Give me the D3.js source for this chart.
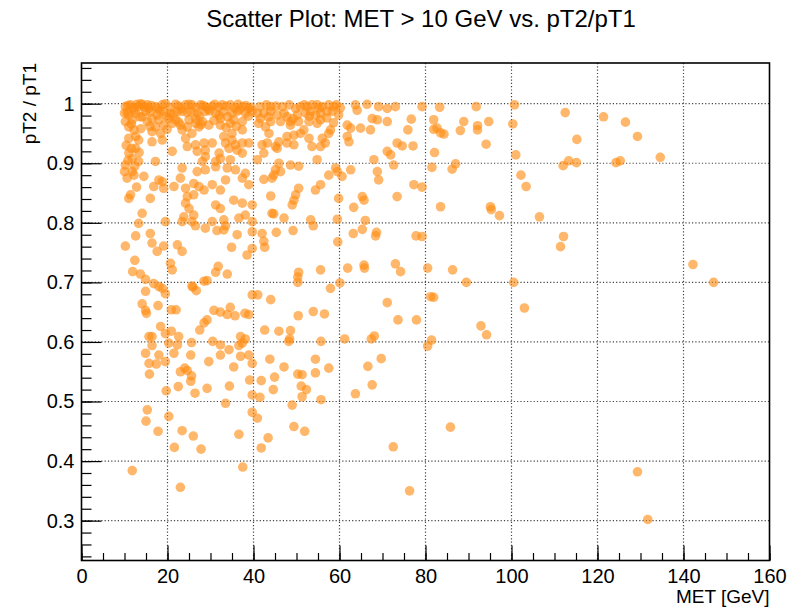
<!DOCTYPE html>
<html>
<head>
<meta charset="utf-8">
<script src="https://cdn.jsdelivr.net/npm/d3@7"></script>
<style>
  body { margin: 0; background: #fff; }
  text { font-family: "Liberation Sans", Arial, Helvetica, sans-serif; fill: #000; }
</style>
</head>
<body>
<script>
// MET [GeV] and pT2/pT1 for each event (same order in both arrays)
const metValues = [
  10.2,11.4,12.9,14.1,15.3,17.2,18.8,21.9,24.2,25.7,27.7,28.8,30.4,32.7,34.6,37.4,38.9,13.3,15.7,
  10.0,11.0,12.6,14.9,17.6,19.1,20.7,22.3,23.4,25.4,26.9,28.8,31.2,33.1,35.0,36.2,38.1,39.7,10.2,11.8,14.1,16.4,18.0,20.3,21.9,25.0,26.5,28.1,29.6,32.3,35.4,37.4,
  11.0,12.2,15.3,17.2,19.1,21.1,23.0,24.6,26.5,27.3,32.3,34.6,37.4,16.4,18.4,23.4,25.7,12.6,35.0,
  11.0,13.3,16.4,18.8,24.2,26.5,28.5,30.4,33.1,33.5,35.0,35.8,37.4,38.9,12.6,24.6,26.9,28.8,32.0,34.3,36.2,37.4,21.1,
  11.0,11.8,13.3,17.2,28.8,32.3,34.6,10.2,28.1,31.2,
  10.0,11.8,12.2,14.5,23.4,26.9,28.8,31.2,33.9,35.8,38.1,23.0,18.0,18.8,37.4,33.5,
  16.8,19.1,21.5,24.2,26.1,27.3,28.5,30.4,32.3,11.4,11.0,16.0,24.6,26.1,38.9,
  24.2,25.0,26.1,31.2,32.3,35.4,37.4,14.1,23.8,36.6,13.3,19.5,23.4,25.7,30.4,33.1,38.1,39.7,
  44.0,46.7,49.8,50.9,52.5,53.6,54.8,56.0,57.5,58.7,63.7,66.4,69.1,71.1,73.0,64.1,
  40.9,42.4,44.0,45.5,47.1,47.8,50.2,52.1,53.3,54.4,55.6,57.1,58.3,59.8,41.6,44.0,46.3,48.6,50.5,52.9,54.8,55.6,67.6,68.8,71.1,41.2,42.8,48.6,
  43.6,47.8,49.4,50.9,51.7,57.9,61.8,62.6,64.9,67.2,61.8,62.2,52.9,56.0,57.5,45.9,
  42.0,43.2,45.1,45.5,47.8,49.4,53.6,55.6,56.7,73.4,42.4,71.1,71.9,
  40.9,54.8,45.9,48.6,50.5,68.0,72.6,45.1,46.3,57.5,59.1,59.5,60.6,62.6,68.8,69.1,
  42.4,44.3,44.7,54.4,55.6,50.5,49.8,44.0,49.4,59.8,65.3,65.7,73.4,39.7,
  49.0,63.3,44.3,44.7,47.1,53.3,59.5,66.0,
  26.5,28.8,31.5,33.1,33.5,39.7,12.6,16.0,10.2,16.4,19.1,17.6,22.3,23.4,34.9,36.2,38.5,39.7,
  12.4,20.7,21.1,31.8,31.2,33.9,11.9,13.7,14.9,
  16.8,18.0,18.8,19.5,14.9,25.7,25.9,26.7,28.5,29.2,
  39.7,14.1,14.9,15.1,17.8,20.9,22.0,30.8,32.3,33.9,34.6,35.7,38.0,38.9,29.2,28.5,27.5,18.4,20.9,19.5,15.7,16.4,22.6,25.6,30.5,32.3,37.0,38.1,37.4,36.6,16.4,20.3,22.3,34.3,14.9,18.0,21.5,25.4,32.3,38.9,
  42.0,42.4,42.6,45.3,49.2,53.9,59.6,63.2,65.3,68.6,68.4,50.5,50.3,50.3,55.6,61.9,65.7,65.8,73.0,74.2,60.1,57.9,41.0,44.0,71.1,
  50.4,53.9,56.5,73.6,42.6,45.9,48.6,48.4,48.2,55.7,61.2,67.4,68.1,
  15.7,17.4,19.5,29.6,37.0,39.7,15.8,23.0,24.0,24.6,25.6,25.4,35.4,39.1,22.5,26.4,29.2,34.4,19.7,39.7,33.5,15.3,20.3,39.7,15.0,17.8,23.4,26.0,36.6,21.6,27.8,11.8,37.5,23.0,
  43.8,47.1,54.4,57.5,54.4,50.3,51.3,44.9,41.8,44.6,51.1,52.3,51.3,41.5,55.7,49.0,40.9,49.4,51.9,43.4,41.8,69.7,66.6,67.6,63.7,72.5,
  79.2,83.3,81.9,81.9,82.7,83.5,84.3,75.9,76.7,77.1,74.6,82.1,81.5,86.2,87.0,77.3,79.2,83.5,77.8,79.2,
  91.8,100.7,88.9,88.1,92.1,92.1,94.7,100.3,112.5,121.4,126.5,129.3,115.2,94.1,101.0,112.0,113.3,115.1,124.3,125.3,134.6,102.2,103.4,95.1,95.3,97.2,106.5,112.1,
  80.5,86.3,81.2,81.9,89.5,100.5,103.0,77.9,92.9,94.2,80.5,81.4,76.3,85.8,129.3,131.7,111.4,142.2,147.0,
  // dense band near 1 and left column, partly hidden by overlap
  10.8,12.0,13.8,14.6,16.2,17.8,19.5,20.6,22.6,23.2,25.0,26.6,28.2,29.4,31.0,31.8,33.6,35.6,36.4,38.2,39.4,
  10.6,12.2,13.6,16.0,18.2,19.8,21.4,24.6,27.4,29.8,32.0,34.0,36.8,38.8,
  11.6,13.8,15.9,19.9,22.6,27.8,30.8,33.6,36.0,
  10.4,11.6,10.8,12.4,10.6,12.8,13.4,
  41.5,43.0,45.2,48.3,51.8,55.3,59.3,60.2,43.5,49.2,53.0,57.0,58.6
];
const ratioValues = [
  0.995,0.998,0.999,0.998,0.998,0.995,0.998,0.999,0.998,0.998,0.998,0.995,0.996,0.998,0.998,0.995,0.992,0.995,0.992,
  0.984,0.981,0.984,0.987,0.981,0.987,0.984,0.987,0.987,0.987,0.984,0.987,0.984,0.987,0.984,0.987,0.984,0.987,0.970,0.973,0.978,0.975,0.973,0.975,0.973,0.973,0.975,0.970,0.964,0.975,0.973,0.970,
  0.961,0.956,0.970,0.961,0.964,0.967,0.964,0.961,0.967,0.961,0.964,0.967,0.956,0.953,0.950,0.956,0.950,0.945,0.950,
  0.942,0.939,0.936,0.939,0.942,0.931,0.934,0.934,0.945,0.934,0.939,0.931,0.934,0.934,0.925,0.928,0.920,0.922,0.917,0.925,0.922,0.917,0.920,
  0.917,0.908,0.903,0.903,0.911,0.908,0.906,0.897,0.903,0.903,
  0.886,0.886,0.880,0.878,0.892,0.886,0.889,0.894,0.892,0.889,0.883,0.875,0.872,0.869,0.875,0.872,
  0.861,0.858,0.861,0.858,0.866,0.861,0.855,0.864,0.855,0.847,0.841,0.841,0.844,0.847,0.864,
  0.833,0.824,0.813,0.830,0.824,0.838,0.833,0.816,0.810,0.808,0.799,0.802,0.802,0.802,0.802,0.805,0.813,0.802,
  0.995,0.995,0.992,0.995,0.995,0.998,0.998,0.995,0.998,0.995,0.998,0.999,0.995,0.992,0.995,0.989,
  0.984,0.984,0.987,0.981,0.984,0.978,0.981,0.984,0.987,0.981,0.984,0.987,0.987,0.981,0.975,0.970,0.970,0.970,0.970,0.970,0.967,0.973,0.975,0.973,0.970,0.967,0.961,0.964,
  0.950,0.945,0.947,0.950,0.956,0.956,0.964,0.959,0.959,0.956,0.945,0.936,0.942,0.942,0.950,0.936,
  0.931,0.934,0.928,0.925,0.934,0.931,0.928,0.928,0.934,0.934,0.917,0.920,0.914,
  0.906,0.906,0.900,0.897,0.895,0.906,0.897,0.889,0.886,0.880,0.892,0.886,0.878,0.889,0.886,0.872,
  0.873,0.875,0.880,0.855,0.864,0.858,0.847,0.845,0.838,0.841,0.844,0.838,0.844,0.830,
  0.830,0.826,0.816,0.815,0.808,0.805,0.806,0.804,
  0.795,0.791,0.787,0.788,0.795,0.785,0.778,0.782,0.761,0.766,0.761,0.752,0.763,0.752,0.759,0.780,0.746,0.757,
  0.737,0.732,0.721,0.727,0.717,0.714,0.718,0.714,0.705,
  0.698,0.693,0.690,0.681,0.685,0.694,0.692,0.686,0.702,0.703,
  0.679,0.664,0.653,0.648,0.661,0.654,0.654,0.653,0.650,0.646,0.658,0.644,0.648,0.646,0.637,0.632,0.620,0.626,0.618,0.614,0.609,0.609,0.609,0.599,0.601,0.595,0.609,0.605,0.598,0.594,0.594,0.598,0.595,0.587,0.581,0.578,0.581,0.578,0.578,0.578,
  0.782,0.769,0.759,0.784,0.787,0.795,0.768,0.782,0.789,0.784,0.778,0.717,0.709,0.700,0.721,0.724,0.729,0.724,0.731,0.718,0.699,0.690,0.679,0.671,0.666,
  0.644,0.651,0.647,0.637,0.620,0.618,0.619,0.605,0.601,0.601,0.605,0.605,0.610,
  0.564,0.563,0.567,0.567,0.576,0.564,0.546,0.550,0.556,0.552,0.543,0.534,0.558,0.536,0.525,0.514,0.522,0.526,0.518,0.511,0.497,0.486,0.475,0.482,0.467,0.450,0.451,0.442,0.445,0.423,0.420,0.384,0.390,0.356,
  0.571,0.558,0.571,0.556,0.548,0.546,0.545,0.541,0.535,0.520,0.526,0.520,0.508,0.507,0.503,0.494,0.472,0.458,0.450,0.439,0.422,0.572,0.559,0.528,0.513,0.424,
  0.995,0.994,0.973,0.957,0.959,0.951,0.949,0.956,0.974,0.929,0.929,0.918,0.893,0.890,0.899,0.864,0.860,0.827,0.778,0.777,
  0.995,0.998,0.970,0.955,0.963,0.956,0.970,0.966,0.985,0.978,0.969,0.945,0.940,0.932,0.914,0.896,0.904,0.901,0.901,0.904,0.910,0.880,0.861,0.827,0.822,0.812,0.810,0.777,
  0.724,0.721,0.676,0.675,0.700,0.700,0.657,0.637,0.627,0.612,0.593,0.603,0.350,0.457,0.382,0.302,0.760,0.730,0.700,
  0.997,0.993,1.000,0.994,0.997,0.992,1.000,0.994,0.996,0.992,0.999,0.993,0.997,0.991,0.999,0.994,0.996,0.993,0.999,0.997,0.994,
  0.985,0.989,0.978,0.986,0.988,0.979,0.982,0.985,0.979,0.988,0.980,0.978,0.990,0.979,
  0.966,0.958,0.962,0.957,0.969,0.965,0.972,0.960,0.962,
  0.930,0.925,0.905,0.895,0.875,0.860,0.918,
  0.995,0.998,0.996,0.998,0.998,0.993,0.998,0.993,0.978,0.975,0.979,0.976,0.968
];

const xMajorTicks = [0, 20, 40, 60, 80, 100, 120, 140, 160];
const yMajorTicks = [0.3, 0.4, 0.5, 0.6, 0.7, 0.8, 0.9, 1.0];

const width = 789;
const height = 609;
const frame = { left: 81.5, right: 769.5, top: 63, bottom: 560.5 };

const svg = d3.select('body')
  .append('svg')
  .attr('width', width)
  .attr('height', height);

svg.append('rect').attr('width', width).attr('height', height).attr('fill', '#fff');

const x = d3.scaleLinear().domain([0, 160]).range([frame.left, frame.right]);
const y = d3.scaleLinear().domain([0.2331, 1.0683]).range([frame.bottom, frame.top]);

// dotted grid on major ticks
const grid = svg.append('g')
  .attr('stroke', '#444')
  .attr('stroke-width', 1.2)
  .attr('stroke-dasharray', '1.2,2.1');

grid.selectAll('.gx')
  .data(xMajorTicks.slice(1, -1))
  .join('line')
  .attr('x1', d => x(d)).attr('x2', d => x(d))
  .attr('y1', frame.top).attr('y2', frame.bottom);

grid.selectAll('.gy')
  .data(yMajorTicks)
  .join('line')
  .attr('x1', frame.left).attr('x2', frame.right)
  .attr('y1', d => y(d)).attr('y2', d => y(d));

// points
const points = metValues.map((m, i) => ({ met: m, ratio: ratioValues[i] }));

svg.append('g')
  .selectAll('circle')
  .data(points)
  .join('circle')
  .attr('cx', d => x(d.met))
  .attr('cy', d => y(d.ratio))
  .attr('r', 4.8)
  .attr('fill', '#ff8a10')
  .attr('fill-opacity', 0.62);

// axes, ticks drawn inside the frame like ROOT
svg.append('g')
  .attr('transform', `translate(0,${frame.bottom})`)
  .call(d3.axisBottom(x).tickValues(xMajorTicks).tickSize(-15).tickPadding(8).tickFormat(d3.format('d')));
svg.append('g')
  .attr('transform', `translate(0,${frame.bottom})`)
  .call(d3.axisBottom(x).tickValues(d3.range(0, 161, 5)).tickSize(-7.5).tickFormat(''));

svg.append('g')
  .attr('transform', `translate(${frame.left},0)`)
  .call(d3.axisLeft(y).tickValues(yMajorTicks).tickSize(-20).tickPadding(7).tickFormat(d3.format('~g')));
svg.append('g')
  .attr('transform', `translate(${frame.left},0)`)
  .call(d3.axisLeft(y).tickValues(d3.range(0.24, 1.07, 0.02)).tickSize(-10).tickFormat(''));

svg.selectAll('.domain').remove();
svg.selectAll('.tick line').attr('stroke', '#000').attr('stroke-width', 1.2);
svg.selectAll('.tick text').attr('font-size', 20).attr('font-family', '"Liberation Sans", Arial, sans-serif');

// frame
svg.append('rect')
  .attr('x', frame.left).attr('y', frame.top)
  .attr('width', frame.right - frame.left)
  .attr('height', frame.bottom - frame.top)
  .attr('fill', 'none')
  .attr('stroke', '#000')
  .attr('stroke-width', 1.6);

// titles
svg.append('text')
  .attr('x', 421).attr('y', 27)
  .attr('text-anchor', 'middle')
  .attr('font-size', 24)
  .text('Scatter Plot: MET > 10 GeV vs. pT2/pT1');

svg.append('text')
  .attr('x', frame.right).attr('y', 603)
  .attr('text-anchor', 'end')
  .attr('font-size', 19)
  .text('MET [GeV]');

svg.append('text')
  .attr('transform', `translate(36,${frame.top}) rotate(-90)`)
  .attr('text-anchor', 'end')
  .attr('font-size', 19)
  .text('pT2 / pT1');
</script>
</body>
</html>
